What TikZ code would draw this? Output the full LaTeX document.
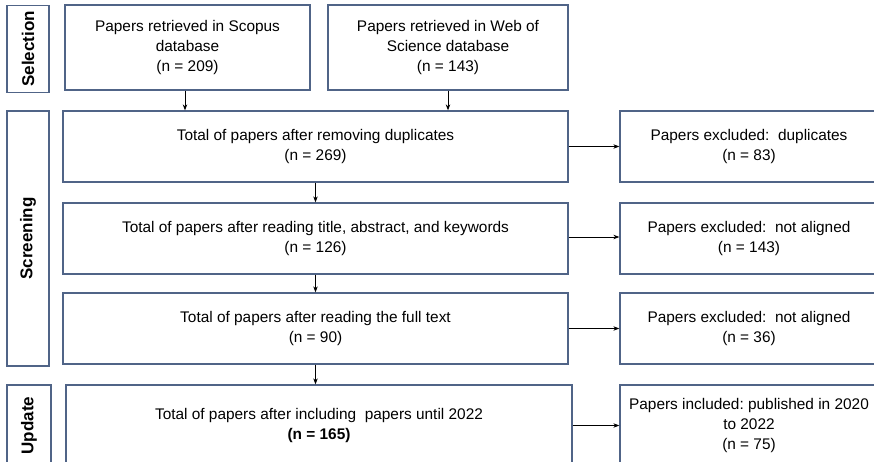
\documentclass[tikz,border=0pt]{standalone}
\usepackage{fontspec}
\setmainfont{Liberation Sans}
\usetikzlibrary{arrows.meta}
\definecolor{edge}{RGB}{80,100,135}
\begin{document}
\begin{tikzpicture}[x=1pt,y=-1pt,
  box/.style={draw=edge,line width=1.3pt,fill=white,rectangle,inner sep=0pt,align=center,
    font=\fontsize{15.4}{19.8}\selectfont,text=black},
  stage/.style={draw=edge,line width=1.3pt,fill=white,rectangle,inner sep=0pt,
    font=\fontsize{17}{20}\selectfont\bfseries,text=black},
  arr/.style={line width=0.8pt,-{Stealth[length=6pt,width=4.5pt]}}]
\useasboundingbox (0,0) rectangle (874,462);
\clip (0,0) rectangle (874,462);
\fill[white] (0,0) rectangle (874,462);
% stage labels
\node[stage,minimum width=42pt,minimum height=87pt] (sel) at (28,49) {\rotatebox{90}{Selection}};
\node[stage,minimum width=42pt,minimum height=255pt] (scr) at (28,238.5) {\rotatebox{90}{Screening}};
\node[stage,minimum width=44pt,minimum height=81pt] (upd) at (29,425.5) {\rotatebox{90}{Update}};
% selection boxes
\node[box,minimum width=245pt,minimum height=85pt] (scopus) at (187.5,47.5) {Papers retrieved in Scopus\\database\\(n = 209)};
\node[box,minimum width=240pt,minimum height=85pt] (wos) at (448,47.5) {Papers retrieved in Web of\\Science database\\(n = 143)};
% main flow
\node[box,minimum width=505pt,minimum height=71pt] (b1) at (315.5,146.5) {Total of papers after removing duplicates\\(n = 269)};
\node[box,minimum width=505pt,minimum height=71pt] (b2) at (315.5,238.5) {Total of papers after reading title, abstract, and keywords\\(n = 126)};
\node[box,minimum width=505pt,minimum height=71pt] (b3) at (315.5,328.5) {Total of papers after reading the full text\\(n = 90)};
\node[box,minimum width=506pt,minimum height=81pt] (b4) at (319,425.5) {Total of papers after including~~papers until 2022\\\textbf{(n = 165)}};
% right boxes
\node[box,minimum width=258pt,minimum height=71pt] (r1) at (749,146.5) {Papers excluded:~~duplicates\\(n = 83)};
\node[box,minimum width=258pt,minimum height=71pt] (r2) at (749,238.5) {Papers excluded:~~not aligned\\(n = 143)};
\node[box,minimum width=258pt,minimum height=71pt] (r3) at (749,328.5) {Papers excluded:~~not aligned\\(n = 36)};
\node[box,minimum width=258pt,minimum height=81pt] (r4) at (749,425.5) {Papers included:~published~in 2020\\to 2022\\(n = 75)};
% arrows
\draw[arr] ([xshift=-2.5pt]scopus.south) -- ([xshift=-2.5pt]scopus.south |- b1.north);
\draw[arr] (wos.south) -- (wos.south |- b1.north);
\draw[arr] (b1.south) -- (b1.south |- b2.north);
\draw[arr] (b2.south) -- (b2.south |- b3.north);
\draw[arr] (b3.south) -- (b3.south |- b4.north);
\draw[arr] (b1.east) -- (r1.west);
\draw[arr] ([yshift=1.5pt]b2.east) -- ([yshift=1.5pt]r2.west);
\draw[arr] (b3.east) -- (r3.west);
\draw[arr] (b4.east) -- (r4.west);
\end{tikzpicture}
\end{document}
